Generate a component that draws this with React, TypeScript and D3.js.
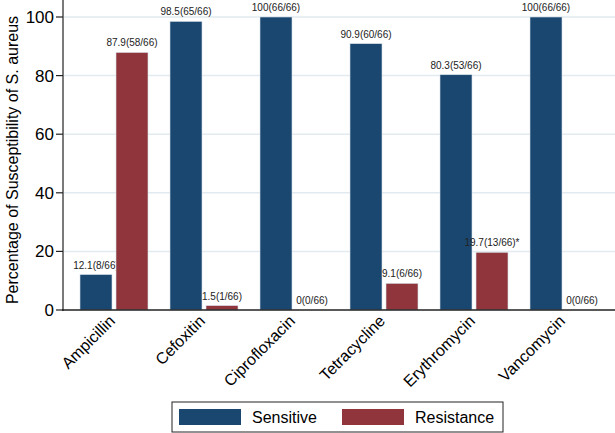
import React from "react";
import * as d3 from "d3";

const categories = ["Ampicillin", "Cefoxitin", "Ciprofloxacin", "Tetracycline", "Erythromycin", "Vancomycin"];
const seriesNames = ["Sensitive", "Resistance"];
const sensitive = [12.1, 98.5, 100, 90.9, 80.3, 100];
const resistance = [87.9, 1.5, 0, 9.1, 19.7, 0];
const sensitiveLabels = ["12.1(8/66)", "98.5(65/66)", "100(66/66)", "90.9(60/66)", "80.3(53/66)", "100(66/66)"];
const resistanceLabels = ["87.9(58/66)", "1.5(1/66)", "0(0/66)", "9.1(6/66)", "19.7(13/66)*", "0(0/66)"];
const yTicks = [0, 20, 40, 60, 80, 100];
const colors = ["#1a476f", "#90353b"];

const W = 615;
const H = 433;
const font = "'Liberation Sans', Arial, sans-serif";

export default function App() {
  const x0 = d3.scaleBand<string>().domain(categories).range([63, 615]).paddingInner(22 / 90).paddingOuter(17 / 90);
  const x1 = d3.scaleBand<string>().domain(seriesNames).range([0, x0.bandwidth()]).paddingInner(4 / 36).paddingOuter(0);
  const y = d3.scaleLinear().domain([0, 100]).range([310, 17]);
  const values = [sensitive, resistance];
  const labels = [sensitiveLabels, resistanceLabels];

  return (
    <svg width={W} height={H} style={{ position: "absolute", left: 0, top: 0, background: "#fff" }} fontFamily={font}>
      <rect x={0} y={0} width={W} height={H} fill="#fff" />
      {yTicks.filter((t) => t > 0).map((t) => (
        <line key={"g" + t} x1={64} x2={615} y1={y(t)} y2={y(t)} stroke="#e1eaef" strokeWidth={1.5} />
      ))}
      {categories.map((c, i) =>
        seriesNames.map((s, j) => {
          const v = values[j][i];
          const bx = (x0(c) as number) + (x1(s) as number);
          const bw = x1.bandwidth();
          return (
            <g key={c + s}>
              {v > 0 && (
                <rect x={bx} y={y(v)} width={bw} height={y(0) - y(v)} fill={colors[j]} stroke="#d8e2ea" strokeWidth={0.6} />
              )}
              <text x={bx + bw / 2} y={y(v) - 6} textAnchor="middle" fontSize={10} fill="#222">
                {labels[j][i]}
              </text>
            </g>
          );
        })
      )}
      <line x1={63} x2={63} y1={0} y2={311} stroke="#7a7a7a" strokeWidth={2} />
      <line x1={62} x2={615} y1={310} y2={310} stroke="#222" strokeWidth={1.5} />
      {yTicks.map((t) => (
        <g key={"t" + t}>
          <line x1={56} x2={63} y1={y(t)} y2={y(t)} stroke="#222" strokeWidth={1.2} />
          <text x={54} y={y(t)} dy="0.35em" textAnchor="end" fontSize={17} fill="#000">
            {t}
          </text>
        </g>
      ))}
      <text transform={`translate(18, 160) rotate(-90)`} textAnchor="middle" fontSize={16} fill="#000">
        Percentage of Susceptibility of S. aureus
      </text>
      {categories.map((c) => {
        const cx = (x0(c) as number) + x0.bandwidth() / 2;
        return (
          <text key={"x" + c} transform={`translate(${cx + 2}, 322) rotate(-45)`} textAnchor="end" fontSize={16} fill="#000">
            {c}
          </text>
        );
      })}
      <rect x={172} y={402} width={331} height={30} fill="#fff" stroke="#222" strokeWidth={1} />
      {seriesNames.map((s, j) => {
        const lx = j === 0 ? 179 : 342;
        return (
          <g key={"l" + s}>
            <rect x={lx} y={409} width={62} height={16} fill={colors[j]} />
            <text x={lx + 73} y={417} dy="0.35em" fontSize={16} fill="#000">
              {s}
            </text>
          </g>
        );
      })}
    </svg>
  );
}
